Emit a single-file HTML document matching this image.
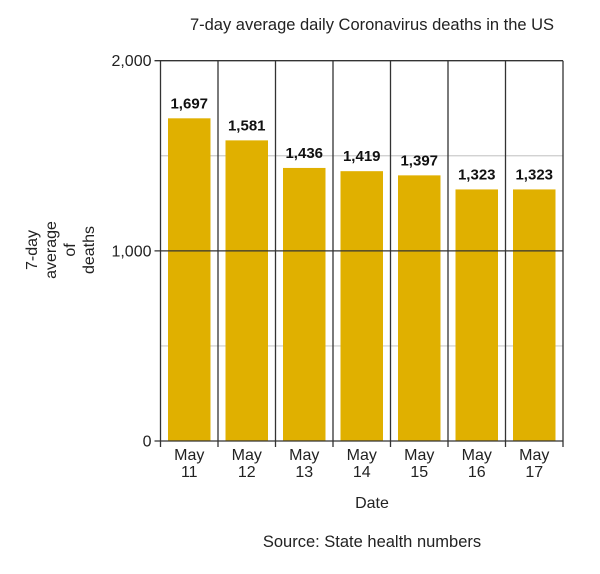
<!DOCTYPE html>
<html><head><meta charset="utf-8"><style>
body{margin:0;background:#fff;font-family:"Liberation Sans",Arial,sans-serif}
</style></head><body>
<svg id="chart" width="600" height="569" xmlns="http://www.w3.org/2000/svg" font-family="Liberation Sans, Arial, sans-serif">
<text x="372" y="30" font-size="16.5" text-anchor="middle" fill="#222">7-day average daily Coronavirus deaths in the US</text>
<g id="grid"></g><g id="bars"></g><g id="axes"></g>
<text x="372" y="508" font-size="16" text-anchor="middle" fill="#222">Date</text>
<g font-size="16" fill="#222" text-anchor="middle">
<text transform="translate(37,250) rotate(-90)">7-day</text>
<text transform="translate(56,250) rotate(-90)">average</text>
<text transform="translate(75,250) rotate(-90)">of</text>
<text transform="translate(94,250) rotate(-90)">deaths</text>
</g>
<text x="372" y="547" font-size="16.5" text-anchor="middle" fill="#222">Source: State health numbers</text>
</svg>
<script>
const categories=["May 11","May 12","May 13","May 14","May 15","May 16","May 17"];
const values=[1697,1581,1436,1419,1397,1323,1323];
const yTicks=[0,1000,2000];
const yMinor=[500,1500];
const NS="http://www.w3.org/2000/svg";
const L=160.5,R=563,T=60.7,B=441,MAX=2000;
const y=v=>B-(v/MAX)*(B-T);
const cw=(R-L)/categories.length;
const x=i=>L+i*cw;
function mk(tag,attrs,parent,text){const e=document.createElementNS(NS,tag);for(const k in attrs)e.setAttribute(k,attrs[k]);if(text!==undefined)e.textContent=text;parent.appendChild(e);return e;}
const grid=document.getElementById('grid'),bars=document.getElementById('bars'),axes=document.getElementById('axes');
yMinor.forEach(v=>{const l=mk('line',{x1:L,x2:R,y1:y(v),y2:y(v),stroke:'#ccc','stroke-width':1.2},grid);

});
values.forEach((v,i)=>{
const r=mk('rect',{x:x(i)+7.5,y:y(v),width:cw-15,height:B-y(v),fill:'#e0b000'},bars);


const t=mk('text',{x:x(i)+cw/2,y:y(v)-10,'font-size':15,'font-weight':'bold','text-anchor':'middle',fill:'#111'},bars,v.toLocaleString('en-US'));


const c1=mk('text',{x:x(i)+cw/2,y:B+19,'font-size':16,'text-anchor':'middle',fill:'#222'},axes,categories[i].split(' ')[0]);


const c2=mk('text',{x:x(i)+cw/2,y:B+36,'font-size':16,'text-anchor':'middle',fill:'#222'},axes,categories[i].split(' ')[1]);


});
for(let i=0;i<=categories.length;i++){const l=mk('line',{x1:x(i),x2:x(i),y1:T,y2:B+6,stroke:'#333','stroke-width':1.3},axes);

}
yTicks.forEach(v=>{const l=mk('line',{x1:L-6,x2:R,y1:y(v),y2:y(v),stroke:'#333','stroke-width':1.3},axes);


const t=mk('text',{x:L-9,y:y(v)+5.5,'font-size':16,'text-anchor':'end',fill:'#222'},axes,v.toLocaleString('en-US'));

});
</script>
</body></html>
